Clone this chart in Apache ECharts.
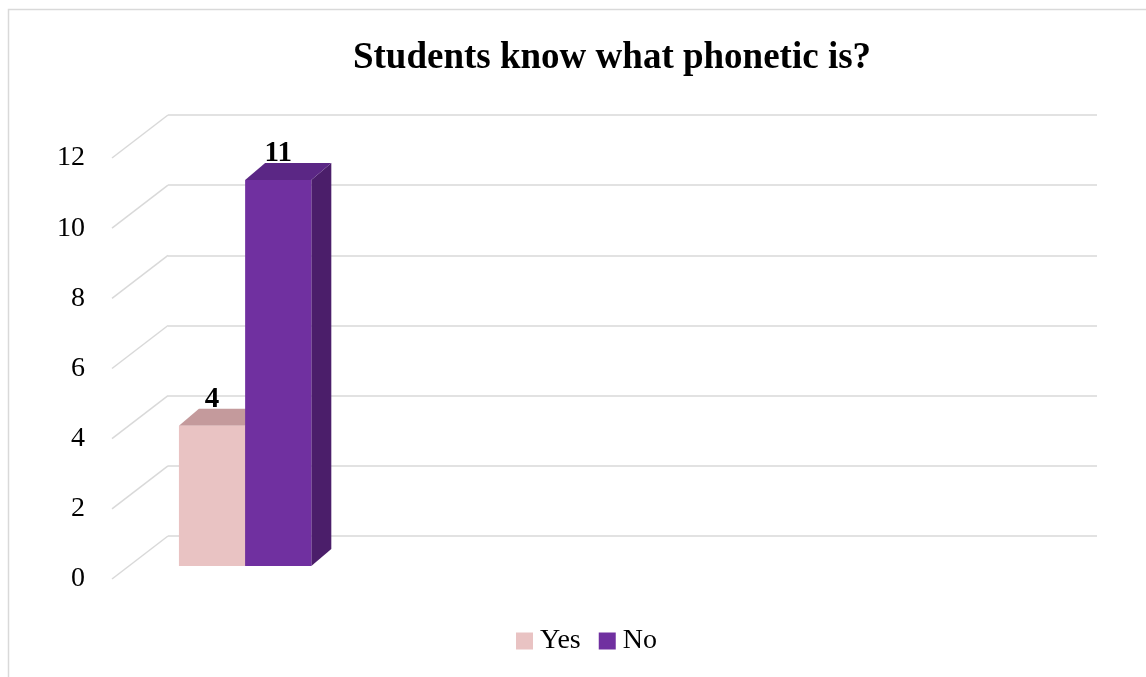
<!DOCTYPE html>
<html>
<head>
<meta charset="utf-8">
<script src="https://cdn.jsdelivr.net/npm/echarts@6/dist/echarts.min.js"></script>
<style>
  html, body { margin: 0; padding: 0; background: #fff; }
  #chart { width: 1146px; height: 677px; }
</style>
</head>
<body>
<div id="chart"></div>
<script>
// Survey data
const categories = [''];
const seriesNames = ['Yes', 'No'];
const yesValues = [4];
const noValues = [11];
const yTicks = [0, 2, 4, 6, 8, 10, 12];

// Oblique 3D projection offsets (pixels)
const WALL_DX = 56, WALL_DY = 43;    // back wall -> front label plane
const FRONT_DX = -39, FRONT_DY = 30; // back wall -> bar front plane
const DEPTH_DX = 20, DEPTH_DY = 17;  // bar depth

const FONT = '"Liberation Serif", "Times New Roman", serif';
const faces = {
  Yes: { front: '#e9c3c3', top: '#c49a9c', side: '#b58a8c' },
  No:  { front: '#7030a0', top: '#5b2785', side: '#4b1e6a' }
};

const wall = { left: 168, top: 115, width: 929, height: 421 };

function barRenderer(name, slot) {
  return function (params, api) {
    const cat = api.value(0), v = api.value(1);
    const base = api.coord([cat, 0]);
    const top = api.coord([cat, v]);
    const band = api.size([1, 0])[0];
    const w = band * 0.285;
    const x0 = base[0] + FRONT_DX + slot * w;
    const yb = base[1] + FRONT_DY;
    const yt = top[1] + FRONT_DY;
    const f = faces[name];
    return {
      type: 'group',
      children: [
        { type: 'polygon', shape: { points: [[x0 + w, yt], [x0 + w + DEPTH_DX, yt - DEPTH_DY], [x0 + w + DEPTH_DX, yb - DEPTH_DY], [x0 + w, yb]] }, style: { fill: f.side } },
        { type: 'polygon', shape: { points: [[x0, yt], [x0 + w, yt], [x0 + w + DEPTH_DX, yt - DEPTH_DY], [x0 + DEPTH_DX, yt - DEPTH_DY]] }, style: { fill: f.top } },
        { type: 'rect', shape: { x: x0, y: yt, width: w, height: yb - yt }, style: { fill: f.front } },
        { type: 'text', x: x0 + w / 2, y: yt - DEPTH_DY + 5,
          style: { text: String(v), textAlign: 'center', textVerticalAlign: 'bottom', font: 'bold 29px ' + FONT, fill: '#000' } }
      ]
    };
  };
}

const chart = echarts.init(document.getElementById('chart'), null, { renderer: 'canvas' });
chart.setOption({
  backgroundColor: '#fff',
  animation: false,
  title: {
    text: 'Students know what phonetic is?',
    left: 607, top: 35, textAlign: 'center',
    textStyle: { fontFamily: FONT, fontWeight: 'bold', fontSize: 37, color: '#000' }
  },
  graphic: [{
    type: 'rect', left: 6, top: 7, silent: true,
    shape: { x: 7, y: 8, width: 1300, height: 800 },
    style: { fill: 'none', stroke: '#d9d9d9', lineWidth: 1.5 }
  }],
  legend: {
    data: seriesNames, left: 511, top: 622, icon: 'rect',
    itemWidth: 17, itemHeight: 17, itemGap: 18,
    textStyle: { fontFamily: FONT, fontSize: 28, color: '#000', padding: [0, 0, 0, 2] }
  },
  grid: [
    { left: wall.left, top: wall.top, width: wall.width, height: wall.height },
    { left: wall.left - WALL_DX, top: wall.top + WALL_DY, width: 10, height: wall.height }
  ],
  xAxis: [
    { gridIndex: 0, type: 'category', data: categories, max: 3, show: false },
    { gridIndex: 1, type: 'value', show: false }
  ],
  yAxis: [
    { gridIndex: 0, type: 'value', min: 0, max: 12, interval: 2,
      axisLine: { show: false }, axisTick: { show: false }, axisLabel: { show: false },
      splitLine: { lineStyle: { color: '#d9d9d9', width: 1.5 } } },
    { gridIndex: 1, type: 'value', min: 0, max: 12, interval: 2,
      axisLine: { show: false }, axisTick: { show: false }, splitLine: { show: false },
      axisLabel: { margin: 27, fontFamily: FONT, fontSize: 28, color: '#000' } }
  ],
  series: [
    {
      name: 'wall-edge', type: 'custom', xAxisIndex: 0, yAxisIndex: 0, silent: true, clip: false,
      data: yTicks.map(t => [0, t]),
      renderItem: function (params, api) {
        const y = api.coord([0, api.value(1)])[1];
        const x = params.coordSys.x;
        return { type: 'line', shape: { x1: x, y1: y, x2: x - WALL_DX, y2: y + WALL_DY },
                 style: { stroke: '#d9d9d9', lineWidth: 1.5 } };
      }
    },
    {
      name: 'Yes', type: 'custom', xAxisIndex: 0, yAxisIndex: 0, clip: false,
      itemStyle: { color: faces.Yes.front },
      data: yesValues.map((v, i) => [i, v]),
      renderItem: barRenderer('Yes', -1)
    },
    {
      name: 'No', type: 'custom', xAxisIndex: 0, yAxisIndex: 0, clip: false,
      itemStyle: { color: faces.No.front },
      data: noValues.map((v, i) => [i, v]),
      renderItem: barRenderer('No', 0)
    }
  ]
});
</script>
</body>
</html>
